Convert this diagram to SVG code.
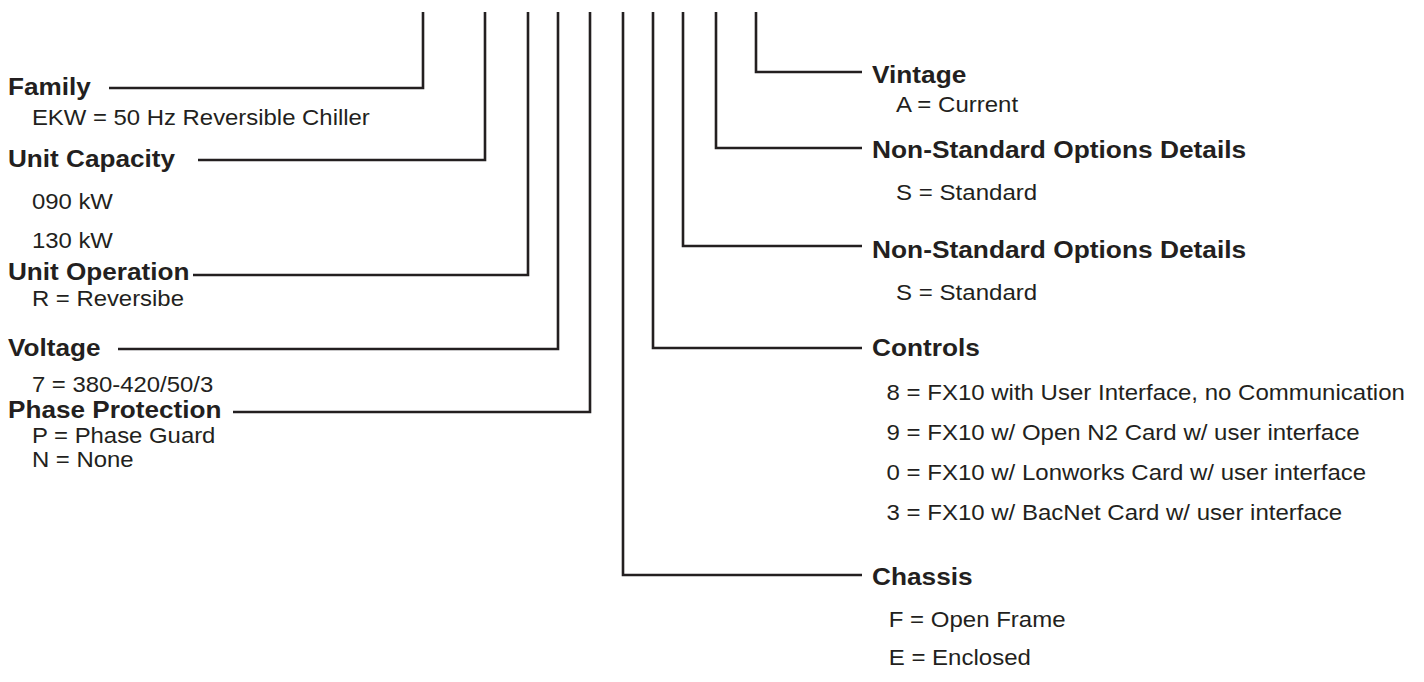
<svg xmlns="http://www.w3.org/2000/svg" width="1424" height="682" viewBox="0 0 1424 682">
  <style>
    text { font-family: "Liberation Sans", Arial, Helvetica, sans-serif; fill: #231f20; }
    .h { font-weight: bold; font-size: 23.5px; }
    .v { font-size: 21.5px; }
    .c { fill: none; stroke: #231f20; stroke-width: 2.6; stroke-linejoin: miter; stroke-linecap: butt; }
  </style>
  <rect width="1424" height="682" fill="#ffffff"/>
  <g id="connectors">
    <path class="c" d="M423 12 V88 H109"/>
    <path class="c" d="M485 12 V160 H198"/>
    <path class="c" d="M528 12 V275 H193"/>
    <path class="c" d="M558 12 V349 H118"/>
    <path class="c" d="M590 12 V412 H233"/>
    <path class="c" d="M623 12 V575 H862"/>
    <path class="c" d="M653 12 V348 H862"/>
    <path class="c" d="M683 12 V246 H862"/>
    <path class="c" d="M716 12 V148 H862"/>
    <path class="c" d="M756 12 V72 H862"/>
  </g>
  <g id="family" transform="translate(8 0) scale(1.112 1)">
    <text class="h" x="0" y="95">Family</text>
    <text class="v" x="21.5" y="125">EKW = 50 Hz Reversible Chiller</text>
  </g>
  <g id="unit-capacity" transform="translate(8 0) scale(1.112 1)">
    <text class="h" x="0" y="167">Unit Capacity</text>
    <text class="v" x="21.5" y="209">090 kW</text>
    <text class="v" x="21.5" y="248">130 kW</text>
  </g>
  <g id="unit-operation" transform="translate(8 0) scale(1.112 1)">
    <text class="h" x="0" y="280">Unit Operation</text>
    <text class="v" x="21.5" y="306">R = Reversibe</text>
  </g>
  <g id="voltage" transform="translate(8 0) scale(1.112 1)">
    <text class="h" x="0" y="356">Voltage</text>
    <text class="v" x="21.5" y="392.5">7 = 380-420/50/3</text>
  </g>
  <g id="phase-protection" transform="translate(8 0) scale(1.112 1)">
    <text class="h" x="0" y="418.5">Phase Protection</text>
    <text class="v" x="21.5" y="443">P = Phase Guard</text>
    <text class="v" x="21.5" y="467.5">N = None</text>
  </g>
  <g id="vintage" transform="translate(872 0) scale(1.117 1)">
    <text class="h" x="0" y="83">Vintage</text>
    <text class="v" x="21.5" y="112">A = Current</text>
  </g>
  <g id="non-standard-1" transform="translate(872 0) scale(1.12 1)">
    <text class="h" x="0" y="158">Non-Standard Options Details</text>
    <text class="v" x="21.5" y="200">S = Standard</text>
  </g>
  <g id="non-standard-2" transform="translate(872 0) scale(1.12 1)">
    <text class="h" x="0" y="258">Non-Standard Options Details</text>
    <text class="v" x="21.5" y="300">S = Standard</text>
  </g>
  <g id="controls" transform="translate(872 0) scale(1.117 1)">
    <text class="h" x="0" y="356">Controls</text>
    <text class="v" x="13" y="400">8 = FX10 with User Interface, no Communication</text>
    <text class="v" x="13" y="440">9 = FX10 w/ Open N2 Card w/ user interface</text>
    <text class="v" x="13" y="480">0 = FX10 w/ Lonworks Card w/ user interface</text>
    <text class="v" x="13" y="520">3 = FX10 w/ BacNet Card w/ user interface</text>
  </g>
  <g id="chassis" transform="translate(872 0) scale(1.117 1)">
    <text class="h" x="0" y="585">Chassis</text>
    <text class="v" x="15" y="627">F = Open Frame</text>
    <text class="v" x="15" y="665">E = Enclosed</text>
  </g>
</svg>
